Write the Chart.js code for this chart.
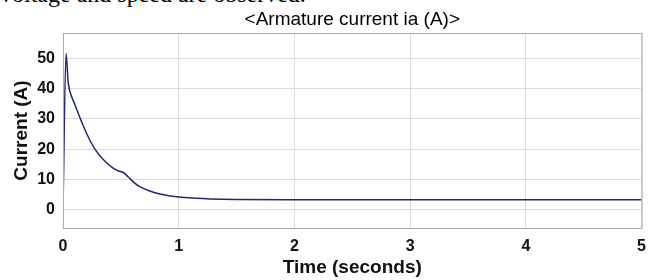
<!DOCTYPE html>
<html>
<head>
<meta charset="utf-8">
<script src="https://cdn.jsdelivr.net/npm/chart.js@4.4.1/dist/chart.umd.min.js"></script>
<style>
  html, body { margin: 0; padding: 0; background: #fff; }
  #wrap { position: relative; width: 655px; height: 280px; overflow: hidden; }
  #topText {
    position: absolute; left: 0; top: -19px;
    font-family: "Liberation Serif", "Times New Roman", serif;
    font-size: 24px; color: #000; white-space: nowrap;
  }
  canvas { position: absolute; left: 0; top: 0; }
</style>
</head>
<body>
<div id="wrap">
  <div id="topText">voltage and speed are observed.</div>
  <canvas id="chart" width="655" height="280"></canvas>
</div>
<script>
// Armature current
const timeValues = [0, 0.026, 0.045, 0.06, 0.1, 0.15, 0.2, 0.276, 0.35, 0.43, 0.48, 0.52, 0.56, 0.62, 0.66, 0.75, 0.84, 1.0, 1.15, 1.27, 1.5, 2, 3, 4, 5];
const currentValues = [0, 51.5, 42, 39, 35, 30, 25.5, 20, 16.5, 13.8, 12.8, 12.3, 11, 8.8, 7.7, 6.2, 5.2, 4.2, 3.8, 3.6, 3.4, 3.3, 3.3, 3.3, 3.3];
const xTicks = [0, 1, 2, 3, 4, 5];
const yTicks = [0, 10, 20, 30, 40, 50];
const chartTitle = '<Armature current ia (A)>';

const points = timeValues.map((t, i) => ({ x: t, y: currentValues[i] }));

const sans = 'Liberation Sans, Arial, sans-serif';

// full box round the plot + title centred over the axes (scope style)
const frameBox = {
    id: 'frameBox',
    afterDraw(chart) {
        const { ctx, chartArea } = chart;
        ctx.save();
        ctx.strokeStyle = '#a8a8a8';
        ctx.lineWidth = 1;
        ctx.strokeRect(chartArea.left + 0.5, chartArea.top + 0.5,
            chartArea.right - chartArea.left, chartArea.bottom - chartArea.top);
        ctx.fillStyle = '#000';
        ctx.font = '19px ' + sans;
        ctx.textAlign = 'center';
        ctx.textBaseline = 'middle';
        ctx.fillText(chartTitle, (chartArea.left + chartArea.right) / 2, 20);
        ctx.restore();
    }
};

new Chart(document.getElementById('chart'), {
    type: 'line',
    data: {
        datasets: [{
            data: points,
            borderColor: '#27276e',
            borderWidth: 1.5,
            pointRadius: 0,
            cubicInterpolationMode: 'monotone',
            fill: false
        }]
    },
    options: {
        responsive: false,
        animation: false,
        layout: { padding: { top: 33, left: 0, right: 12, bottom: 0 } },
        plugins: {
            legend: { display: false },
            tooltip: { enabled: false },
            title: { display: false }
        },
        scales: {
            x: {
                type: 'linear',
                min: 0,
                max: 5,
                afterBuildTicks: axis => { axis.ticks = xTicks.map(v => ({ value: v })); },
                afterFit: axis => { axis.height = 52; },
                grid: { color: '#dcdcdc', drawTicks: false },
                border: { display: false },
                ticks: {
                    color: '#111',
                    padding: 9,
                    maxRotation: 0,
                    font: { family: sans, size: 16, weight: 'bold' }
                },
                title: {
                    display: true,
                    text: 'Time (seconds)',
                    color: '#111',
                    font: { family: sans, size: 19, weight: 'bold' },
                    padding: { top: 0, bottom: 1 }
                }
            },
            y: {
                min: -6,
                max: 58.3,
                afterBuildTicks: axis => { axis.ticks = yTicks.map(v => ({ value: v })); },
                afterFit: axis => { axis.width = 63; },
                grid: { color: '#dcdcdc', drawTicks: false },
                border: { display: false },
                ticks: {
                    color: '#111',
                    padding: 8,
                    font: { family: sans, size: 16, weight: 'bold' }
                },
                title: {
                    display: true,
                    text: 'Current (A)',
                    color: '#111',
                    font: { family: sans, size: 19, weight: 'bold' },
                    padding: { top: 10, bottom: 0 }
                }
            }
        }
    },
    plugins: [frameBox]
});
</script>
</body>
</html>
